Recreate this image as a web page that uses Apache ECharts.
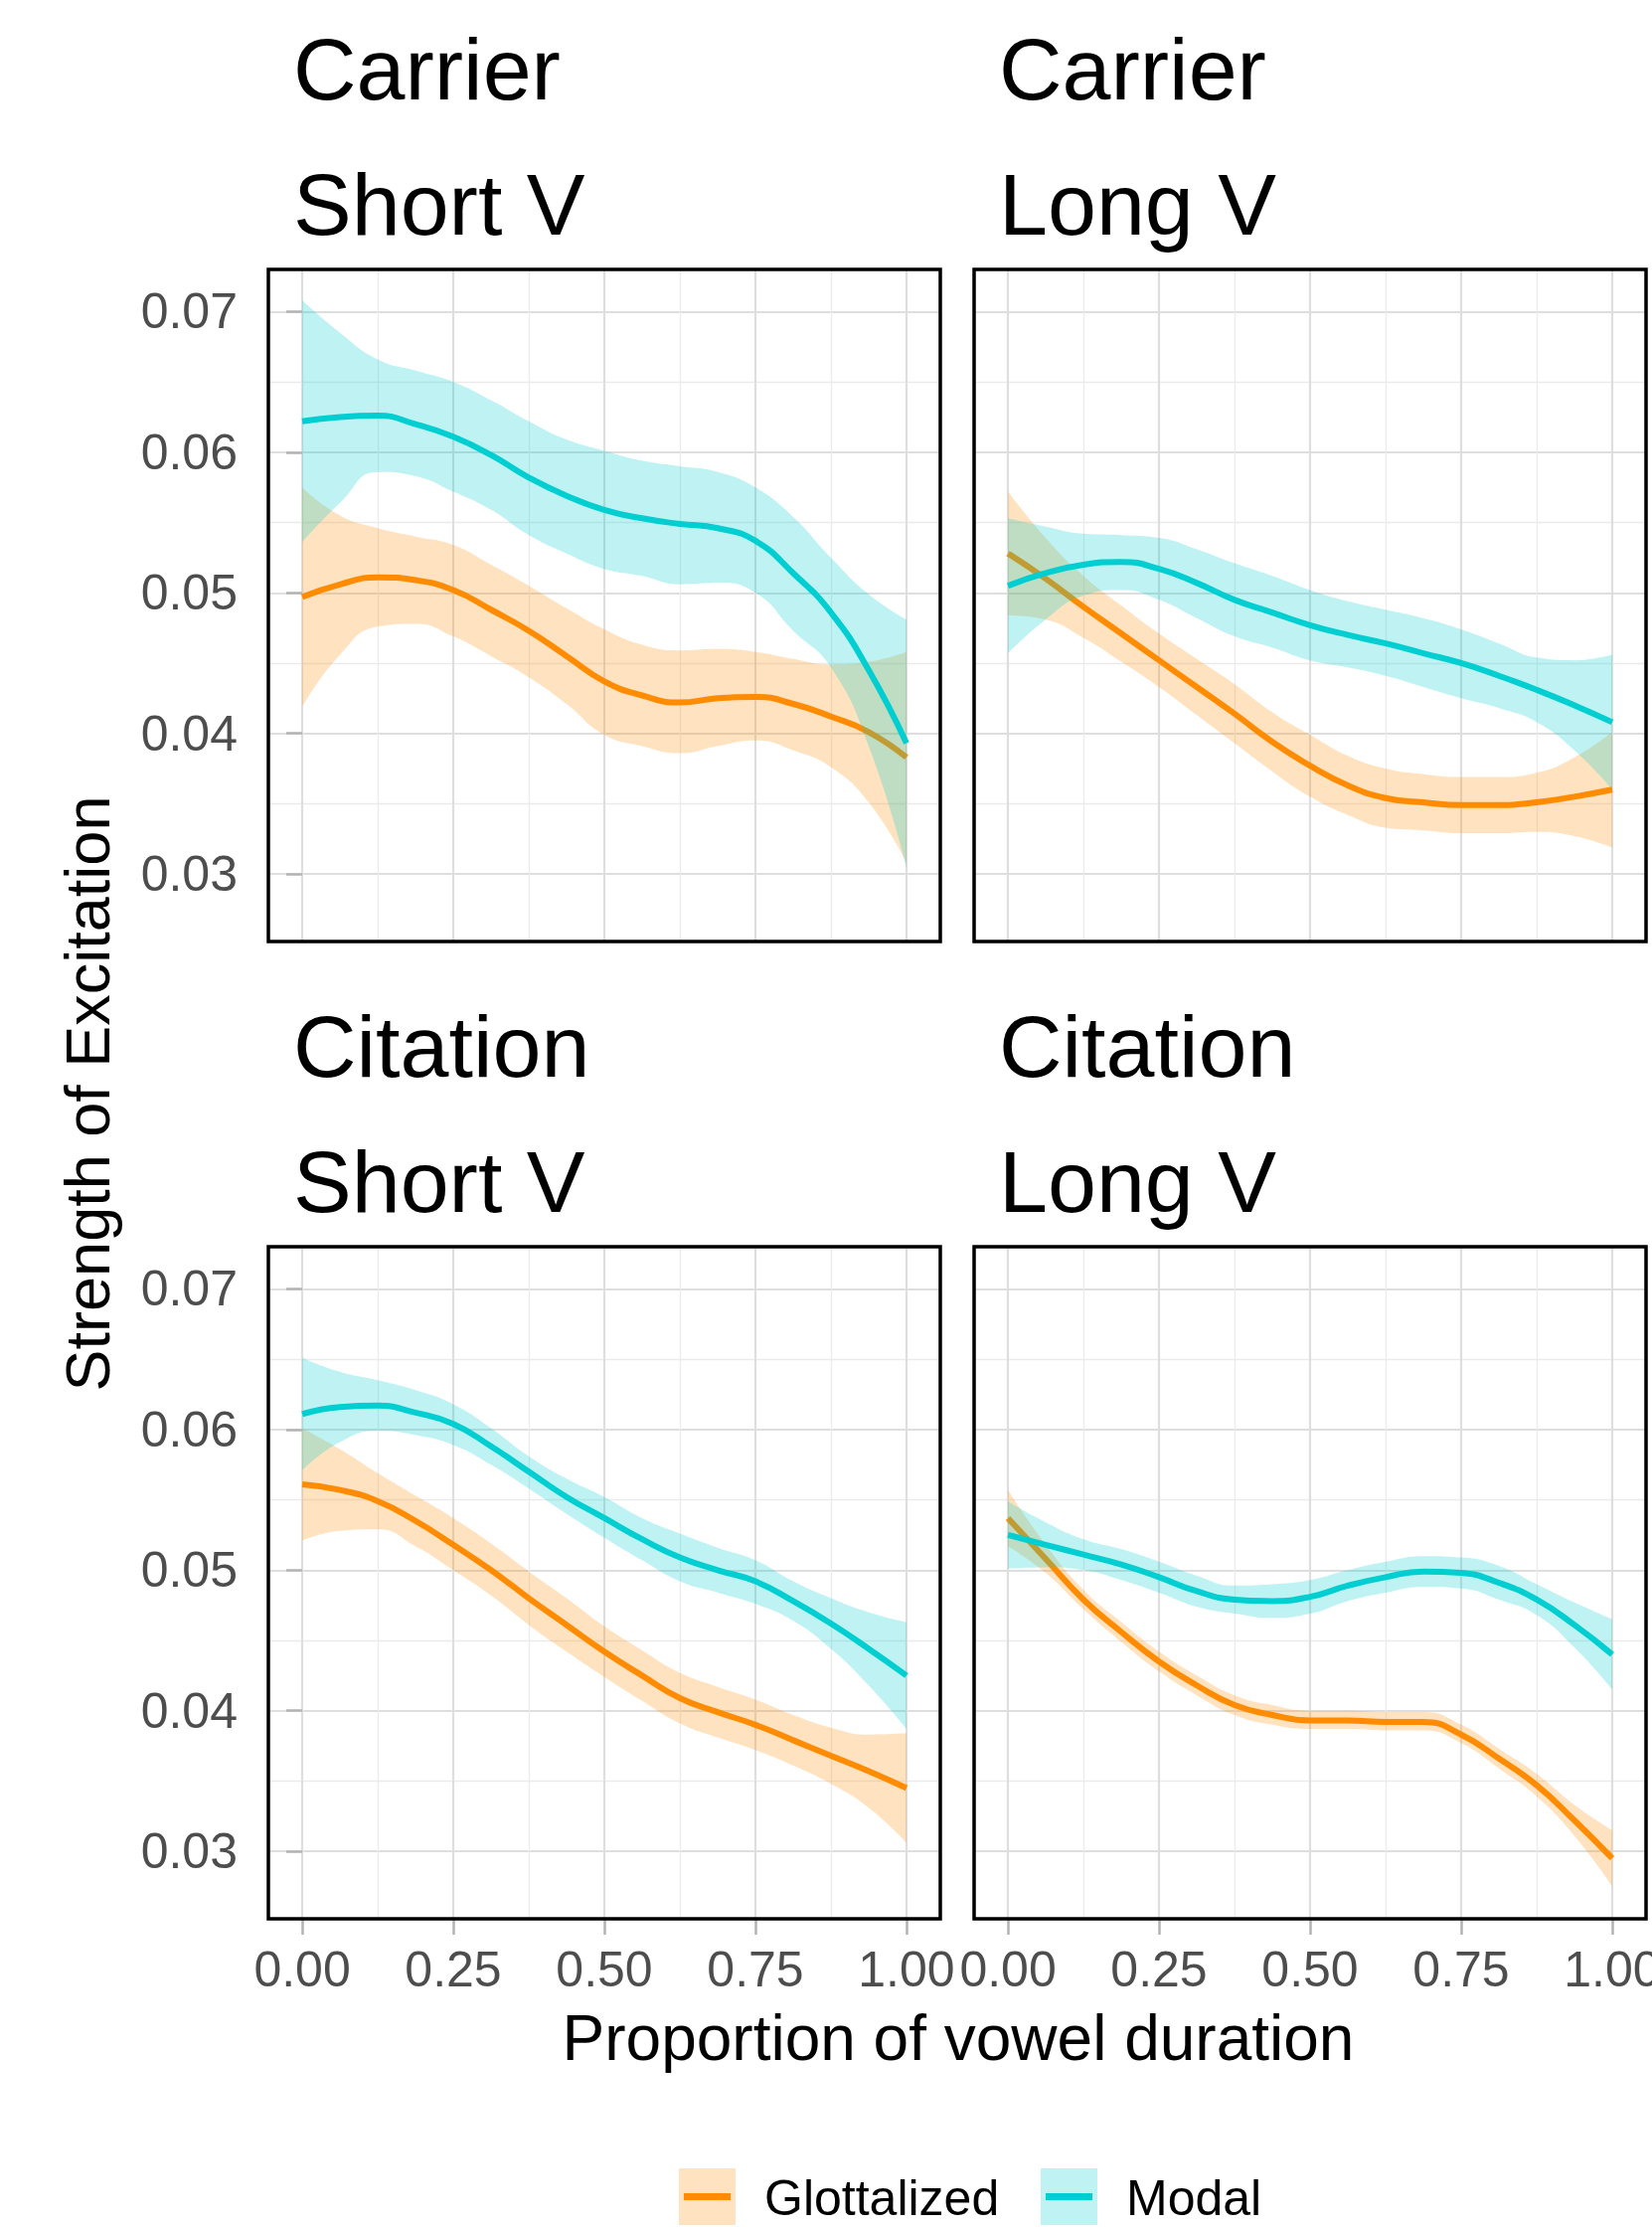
<!DOCTYPE html>
<html>
<head>
<meta charset="utf-8">
<script src="https://cdn.jsdelivr.net/npm/echarts@6.0.0/dist/echarts.min.js"></script>
<style>
html,body{margin:0;padding:0;background:#ffffff;}
#chart{width:1662px;height:2240px;}
</style>
</head>
<body>
<div id="chart"></div>
<script>
// ---------- DATA ----------
const xs = [0,0.0625,0.125,0.1875,0.25,0.3125,0.375,0.4375,0.5,0.5625,0.625,0.6875,0.75,0.8125,0.875,0.9375,1];

const panelTitles = ['Carrier\nShort V','Carrier\nLong V','Citation\nShort V','Citation\nLong V'];
const seriesNames = ['Glottalized','Modal'];
const xMajorTicks = [0,0.25,0.5,0.75,1];
const xMinorTicks = [0.125,0.375,0.625,0.875];
const yMajorTicks = [0.03,0.04,0.05,0.06,0.07];
const yMinorTicks = [0.035,0.045,0.055,0.065];

// Carrier / Short V
const glottMeanCS = [0.0497,0.0506,0.0511,0.0509,0.0502,0.0488,0.0473,0.0455,0.0437,0.0427,0.0422,0.0425,0.0426,0.0421,0.0412,0.0401,0.0383];
const glottLoCS   = [0.0419,0.0456,0.0476,0.0478,0.0469,0.0455,0.0440,0.0421,0.0399,0.0391,0.0386,0.0391,0.0395,0.0388,0.0376,0.0351,0.0308];
const glottHiCS   = [0.0575,0.0555,0.0546,0.0540,0.0534,0.0520,0.0505,0.0489,0.0474,0.0463,0.0459,0.0460,0.0458,0.0453,0.0449,0.0451,0.0458];
const modalMeanCS = [0.0622,0.0625,0.0626,0.0620,0.0611,0.0598,0.0582,0.0569,0.0559,0.0553,0.0549,0.0546,0.0537,0.0514,0.0486,0.0445,0.0393];
const modalLoCS   = [0.0536,0.0564,0.0586,0.0583,0.0572,0.0559,0.0541,0.0528,0.0517,0.0512,0.0506,0.0507,0.0500,0.0473,0.0447,0.0391,0.0305];
const modalHiCS   = [0.0708,0.0685,0.0666,0.0658,0.0650,0.0637,0.0622,0.0609,0.0601,0.0594,0.0590,0.0586,0.0575,0.0554,0.0525,0.0499,0.0481];

// Carrier / Long V
const glottMeanCL = [0.0528,0.0510,0.0490,0.0471,0.0452,0.0433,0.0414,0.0394,0.0377,0.0363,0.0354,0.0351,0.0349,0.0349,0.0351,0.0355,0.0360];
const glottLoCL   = [0.0484,0.0481,0.0468,0.0451,0.0433,0.0413,0.0393,0.0373,0.0355,0.0342,0.0333,0.0331,0.0329,0.0329,0.0330,0.0327,0.0319];
const glottHiCL   = [0.0572,0.0539,0.0512,0.0491,0.0471,0.0453,0.0435,0.0415,0.0399,0.0384,0.0375,0.0371,0.0369,0.0369,0.0372,0.0383,0.0401];
const modalMeanCL = [0.0505,0.0514,0.0520,0.0522,0.0517,0.0507,0.0495,0.0486,0.0477,0.0470,0.0464,0.0457,0.0450,0.0441,0.0431,0.0420,0.0408];
const modalLoCL   = [0.0457,0.0481,0.0498,0.0502,0.0495,0.0482,0.0469,0.0461,0.0452,0.0447,0.0441,0.0433,0.0425,0.0418,0.0408,0.0388,0.0360];
const modalHiCL   = [0.0553,0.0547,0.0542,0.0541,0.0539,0.0531,0.0521,0.0512,0.0502,0.0494,0.0488,0.0482,0.0474,0.0464,0.0454,0.0452,0.0456];

// Citation / Short V
const glottMeanZS = [0.0561,0.0557,0.0549,0.0535,0.0518,0.0500,0.0480,0.0461,0.0442,0.0425,0.0409,0.0399,0.0390,0.0379,0.0368,0.0357,0.0345];
const glottLoZS   = [0.0521,0.0528,0.0529,0.0517,0.0500,0.0482,0.0461,0.0442,0.0424,0.0407,0.0391,0.0381,0.0372,0.0361,0.0348,0.0331,0.0306];
const glottHiZS   = [0.0601,0.0586,0.0569,0.0553,0.0537,0.0519,0.0499,0.0480,0.0460,0.0443,0.0427,0.0417,0.0408,0.0397,0.0388,0.0383,0.0384];
const modalMeanZS = [0.0611,0.0616,0.0617,0.0612,0.0604,0.0588,0.0570,0.0552,0.0537,0.0522,0.0509,0.0500,0.0492,0.0478,0.0462,0.0444,0.0425];
const modalLoZS   = [0.0571,0.0591,0.0599,0.0596,0.0589,0.0575,0.0558,0.0540,0.0523,0.0507,0.0492,0.0484,0.0476,0.0464,0.0444,0.0418,0.0387];
const modalHiZS   = [0.0651,0.0641,0.0635,0.0628,0.0618,0.0601,0.0581,0.0565,0.0552,0.0537,0.0526,0.0516,0.0507,0.0492,0.0480,0.0470,0.0463];

// Citation / Long V
const glottMeanZL = [0.0537,0.0508,0.0479,0.0456,0.0435,0.0418,0.0404,0.0397,0.0393,0.0393,0.0392,0.0392,0.0383,0.0366,0.0347,0.0322,0.0295];
const glottLoZL   = [0.0517,0.0498,0.0472,0.0449,0.0428,0.0411,0.0397,0.0390,0.0387,0.0387,0.0386,0.0386,0.0377,0.0359,0.0339,0.0311,0.0275];
const glottHiZL   = [0.0557,0.0518,0.0486,0.0463,0.0442,0.0425,0.0411,0.0404,0.0400,0.0400,0.0399,0.0399,0.0390,0.0373,0.0355,0.0333,0.0315];
const modalMeanZL = [0.0525,0.0518,0.0511,0.0504,0.0495,0.0485,0.0479,0.0478,0.0481,0.0489,0.0495,0.0499,0.0498,0.0491,0.0479,0.0461,0.0440];
const modalLoZL   = [0.0501,0.0502,0.0500,0.0493,0.0484,0.0474,0.0469,0.0466,0.0469,0.0478,0.0484,0.0488,0.0487,0.0479,0.0468,0.0445,0.0415];
const modalHiZL   = [0.0549,0.0534,0.0522,0.0515,0.0506,0.0496,0.0489,0.0490,0.0493,0.0500,0.0506,0.0510,0.0509,0.0503,0.0490,0.0477,0.0465];

// ---------- BUILD ----------
const FONT = '"Liberation Sans", Arial, Helvetica, sans-serif';
const lineColors = ['#FF8C00', '#00CED1'];
const fillColors = ['rgba(255,140,0,0.25)', 'rgba(0,206,209,0.25)'];
const SMOOTH = 0.5;

const panelData = [
  [[glottMeanCS, glottLoCS, glottHiCS], [modalMeanCS, modalLoCS, modalHiCS]],
  [[glottMeanCL, glottLoCL, glottHiCL], [modalMeanCL, modalLoCL, modalHiCL]],
  [[glottMeanZS, glottLoZS, glottHiZS], [modalMeanZS, modalLoZS, modalHiZS]],
  [[glottMeanZL, glottLoZL, glottHiZL], [modalMeanZL, modalLoZL, modalHiZL]]
];

const panelPos = [[270, 271], [980, 271], [270, 1254], [980, 1254]];
const PW = 676, PH = 676;
const X_MIN = -0.056, X_MAX = 1.056;
const Y_MIN = 0.0252, Y_MAX = 0.0730;

const grids = [], xAxes = [], yAxes = [], series = [], titles = [];

// value first, x second: the stacked dimension is then the y value
function valFirst(arr) { return xs.map((x, k) => [arr[k], x]); }
function pairs(arr) { return xs.map((x, k) => [x, arr[k]]); }

panelPos.forEach((p, i) => {
  const isBottom = i >= 2;
  const isLeft = i % 2 === 0;
  grids.push({
    left: p[0], top: p[1], width: PW, height: PH,
    show: true, borderColor: '#000000', borderWidth: 3.5,
    backgroundColor: 'transparent', containLabel: false,
    outerBoundsMode: 'none', z: 1
  });
  xAxes.push({
    gridIndex: i, type: 'value', min: X_MIN, max: X_MAX,
    axisLine: { show: false },
    axisTick: { show: isBottom, customValues: xMajorTicks, length: 16, lineStyle: { color: '#b3b3b3', width: 2.5 } },
    axisLabel: { show: isBottom, customValues: xMajorTicks, margin: 26, fontSize: 50, color: '#4d4d4d', fontFamily: FONT,
      formatter: v => Number(v).toFixed(2) },
    splitLine: { show: true, lineStyle: { color: '#dedede', width: 2.2 } }
  });
  xAxes.push({
    gridIndex: i, type: 'value', min: X_MIN, max: X_MAX,
    axisLine: { show: false },
    axisTick: { show: false, customValues: xMinorTicks },
    axisLabel: { show: false, customValues: xMinorTicks },
    splitLine: { show: true, lineStyle: { color: '#ebebeb', width: 1.3 } }
  });
  yAxes.push({
    gridIndex: i, type: 'value', min: Y_MIN, max: Y_MAX,
    axisLine: { show: false },
    axisTick: { show: isLeft, customValues: yMajorTicks, length: 16, lineStyle: { color: '#b3b3b3', width: 2.5 } },
    axisLabel: { show: isLeft, customValues: yMajorTicks, margin: 31, fontSize: 50, color: '#4d4d4d', fontFamily: FONT,
      formatter: v => Number(v).toFixed(2) },
    splitLine: { show: true, lineStyle: { color: '#dedede', width: 2.2 } }
  });
  yAxes.push({
    gridIndex: i, type: 'value', min: Y_MIN, max: Y_MAX,
    axisLine: { show: false },
    axisTick: { show: false, customValues: yMinorTicks },
    axisLabel: { show: false, customValues: yMinorTicks },
    splitLine: { show: true, lineStyle: { color: '#ebebeb', width: 1.3 } }
  });

  titles.push({
    text: panelTitles[i], left: p[0] + 25, top: p[1] - 269.5, padding: 0,
    textStyle: { fontSize: 88, fontWeight: 'normal', color: '#000000', fontFamily: FONT, lineHeight: 136 }
  });

  panelData[i].forEach((grp, s) => {
    const mean = grp[0], lo = grp[1], hi = grp[2];
    const band = hi.map((h, k) => +(h - lo[k]).toFixed(6));
    const stackId = 'band_' + i + '_' + s;
    const zBase = 3 + s * 2;
    const common = {
      type: 'line', xAxisIndex: 2 * i, yAxisIndex: 2 * i,
      dimensions: ['val', 'px'], encode: { x: 'px', y: 'val' },
      stack: stackId, symbol: 'none', smooth: SMOOTH,
      silent: true, animation: false, z: zBase
    };
    series.push(Object.assign({}, common, {
      name: seriesNames[s] + ' lower', data: valFirst(lo),
      lineStyle: { width: 0, opacity: 0 }
    }));
    series.push(Object.assign({}, common, {
      name: seriesNames[s] + ' band', data: valFirst(band),
      lineStyle: { width: 0, opacity: 0 }, areaStyle: { color: fillColors[s], opacity: 1 }
    }));
    series.push({
      type: 'line', name: seriesNames[s], xAxisIndex: 2 * i, yAxisIndex: 2 * i,
      data: pairs(mean), symbol: 'none', smooth: SMOOTH,
      lineStyle: { width: 6, color: lineColors[s], cap: 'butt' }, itemStyle: { color: lineColors[s] },
      z: zBase + 1, animation: false
    });
  });
});

const graphics = [
  { type: 'text', x: 88, y: 1100, rotation: Math.PI / 2, z: 10,
    style: { text: 'Strength of Excitation', fontSize: 63, fontFamily: FONT, fill: '#000000', align: 'center', verticalAlign: 'middle' } },
  { type: 'text', x: 964, y: 2050, z: 10,
    style: { text: 'Proportion of vowel duration', fontSize: 64, fontFamily: FONT, fill: '#000000', align: 'center', verticalAlign: 'middle' } },
  { type: 'rect', shape: { x: 683, y: 2181, width: 57, height: 57 }, style: { fill: fillColors[0] }, z: 10 },
  { type: 'line', shape: { x1: 688, y1: 2209.5, x2: 735, y2: 2209.5 }, style: { stroke: lineColors[0], lineWidth: 7 }, z: 11 },
  { type: 'text', x: 769, y: 2211, z: 10,
    style: { text: seriesNames[0], fontSize: 50, fontFamily: FONT, fill: '#000000', align: 'left', verticalAlign: 'middle' } },
  { type: 'rect', shape: { x: 1047, y: 2181, width: 57, height: 57 }, style: { fill: fillColors[1] }, z: 10 },
  { type: 'line', shape: { x1: 1052, y1: 2209.5, x2: 1099, y2: 2209.5 }, style: { stroke: lineColors[1], lineWidth: 7 }, z: 11 },
  { type: 'text', x: 1133, y: 2211, z: 10,
    style: { text: seriesNames[1], fontSize: 50, fontFamily: FONT, fill: '#000000', align: 'left', verticalAlign: 'middle' } }
];

const chart = echarts.init(document.getElementById('chart'), null, { renderer: 'svg', width: 1662, height: 2240 });
chart.setOption({
  animation: false,
  backgroundColor: '#ffffff',
  textStyle: { fontFamily: FONT },
  title: titles,
  grid: grids,
  xAxis: xAxes,
  yAxis: yAxes,
  series: series,
  graphic: graphics
});
</script>
</body>
</html>
